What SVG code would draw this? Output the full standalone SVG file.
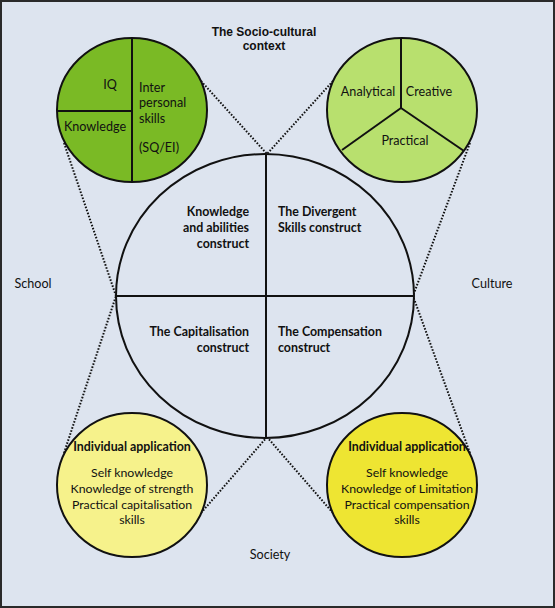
<svg xmlns="http://www.w3.org/2000/svg" width="555" height="608" viewBox="0 0 555 608">
<style>
.ln{stroke:#111;stroke-width:2;fill:none}
.dot{stroke:#111;stroke-width:2;stroke-dasharray:1.6 1.6;fill:none}
.c{stroke:#111;stroke-width:2}
.t{font-family:Lato,"Open Sans",sans-serif;font-size:12.6px;fill:#111}
.s{font-size:12.3px}
.b{font-family:Lato,"Open Sans",sans-serif;font-size:12.4px;font-weight:bold;fill:#111}
.h{font-family:"Liberation Sans",Arial,sans-serif;font-size:12px;font-weight:bold;fill:#111}
.m{text-anchor:middle}
.e{text-anchor:end}
</style>
<rect x="1" y="1" width="553" height="606" fill="#dde4ef" stroke="#2a2a2a" stroke-width="2"/>
<g id="title"><text class="h m" x="264" y="36">The Socio-cultural</text><text class="h m" x="264" y="50">context</text></g>
<g id="labels">
<text class="t m" x="33" y="288">School</text>
<text class="t m" x="492" y="288">Culture</text>
<text class="t m" x="270" y="559">Society</text>
</g>
<g id="connectors">
<line class="dot" x1="201" y1="81" x2="267" y2="154"/>
<line class="dot" x1="333" y1="81" x2="267" y2="154"/>
<line class="dot" x1="64" y1="143" x2="116" y2="296"/>
<line class="dot" x1="470" y1="143" x2="413" y2="296"/>
<line class="dot" x1="64" y1="453" x2="116" y2="296"/>
<line class="dot" x1="470" y1="453" x2="413" y2="296"/>
<line class="dot" x1="201" y1="513" x2="267" y2="437"/>
<line class="dot" x1="333" y1="513" x2="267" y2="437"/>
</g>
<g id="main">
<ellipse class="c" cx="265" cy="296" rx="149" ry="142" fill="#dde4ef"/>
<line class="ln" x1="266" y1="154" x2="266" y2="438"/>
<line class="ln" x1="116" y1="296" x2="414" y2="296"/>
<text class="b e" x="249" y="216">Knowledge</text>
<text class="b e" x="249" y="232">and abilities</text>
<text class="b e" x="249" y="248">construct</text>
<text class="b" x="278" y="216">The Divergent</text>
<text class="b" x="278" y="232">Skills construct</text>
<text class="b e" x="249" y="336">The Capitalisation</text>
<text class="b e" x="249" y="352">construct</text>
<text class="b" x="278" y="336">The Compensation</text>
<text class="b" x="278" y="352">construct</text>
</g>
<g id="school">
<ellipse class="c" cx="132" cy="110" rx="75" ry="72" fill="#7aba25"/>
<line class="ln" x1="132" y1="38" x2="132" y2="182"/>
<line class="ln" x1="57" y1="111" x2="132" y2="111"/>
<text class="t m" x="110" y="89">IQ</text>
<text class="t m" x="95" y="131">Knowledge</text>
<text class="t" x="139" y="92">Inter</text>
<text class="t" x="139" y="107">personal</text>
<text class="t" x="139" y="123">skills</text>
<text class="t" x="139" y="152">(SQ/EI)</text>
</g>
<g id="culture">
<ellipse class="c" cx="402" cy="110" rx="75" ry="72" fill="#b8e06e"/>
<line class="ln" x1="401" y1="38" x2="401" y2="108"/>
<line class="ln" x1="401" y1="108" x2="342" y2="150"/>
<line class="ln" x1="401" y1="108" x2="464" y2="151"/>
<text class="t m" x="368" y="96">Analytical</text>
<text class="t m" x="429" y="96">Creative</text>
<text class="t m" x="405" y="145">Practical</text>
</g>
<g id="capitalisation">
<ellipse class="c" cx="132" cy="485" rx="75" ry="72" fill="#f6f28b"/>
<text class="b m" x="132" y="451">Individual application</text>
<text class="t s m" x="132" y="477">Self knowledge</text>
<text class="t s m" x="132" y="493">Knowledge of strength</text>
<text class="t s m" x="132" y="509">Practical capitalisation</text>
<text class="t s m" x="132" y="524">skills</text>
</g>
<g id="compensation">
<ellipse class="c" cx="402" cy="485" rx="75" ry="72" fill="#eee532"/>
<text class="b m" x="407" y="451">Individual application</text>
<text class="t s m" x="407" y="477">Self knowledge</text>
<text class="t s m" x="407" y="493">Knowledge of Limitation</text>
<text class="t s m" x="407" y="509">Practical compensation</text>
<text class="t s m" x="407" y="524">skills</text>
</g>
</svg>
